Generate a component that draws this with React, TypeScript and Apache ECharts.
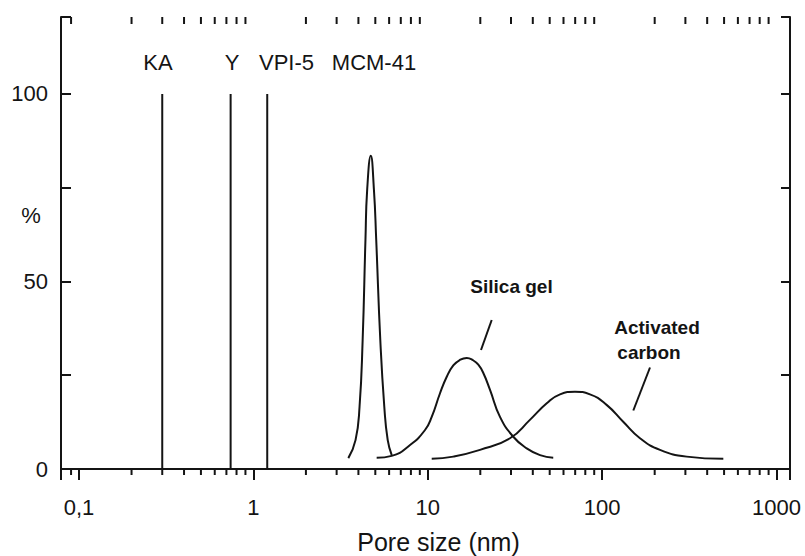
import React, { useEffect, useRef } from "react";
import * as echarts from "echarts";

// Molecular sieves (vertical lines), pore size in nm
const sieveNames = ["KA", "Y", "VPI-5"];
const sievePores = [0.3, 0.74, 1.2];
const sieveHeights = [100, 100, 100];

// MCM-41 distribution
const mcmPore = [3.5, 3.85, 4.06, 4.23, 4.39, 4.49, 4.71, 4.91, 5.06, 5.34, 5.63, 5.89, 6.21];
const mcmPct = [2.9, 7.7, 16.6, 34.4, 61.1, 74.4, 83.5, 74.4, 61.1, 34.4, 16.6, 7.7, 3.7];

// Silica gel distribution
const silicaPore = [5.09, 6.21, 7.91, 9.64, 10.53, 11.75, 12.84, 14.0, 15.2, 16.72, 18.16, 19.48, 20.81, 22.74, 25.94, 30.92, 36.9, 44.0, 52.4];
const silicaPct = [3.0, 3.5, 6.4, 10.4, 13.9, 20.2, 24.6, 27.6, 29.0, 29.6, 29.0, 27.8, 25.6, 21.1, 13.9, 8.6, 5.5, 3.7, 3.0];

// Activated carbon distribution
const carbonPore = [10.53, 14.0, 19.92, 29.6, 38.5, 48.1, 57.3, 69.8, 85.1, 106, 132, 164.7, 214.5, 305, 495];
const carbonPct = [2.7, 3.3, 5.1, 8.2, 13.1, 17.5, 19.9, 20.6, 19.9, 17.1, 12.6, 8.2, 5.1, 3.3, 2.7];

// Axis ticks
const xMajorValues = [0.1, 1, 10, 100, 1000];
const xMajorLabels = ["0,1", "1", "10", "100", "1000"];
const xMinorValues = [
  0.09,
  0.2, 0.3, 0.4, 0.5, 0.6, 0.7, 0.8, 0.9,
  2, 3, 4, 5, 6, 7, 8, 9,
  20, 30, 40, 50, 60, 70, 80, 90,
  200, 300, 400, 500, 600, 700, 800, 900,
];
const yLabelValues = [0, 50, 100];

const X_MIN = 0.0788;
const X_MAX = 1194;
const Y_MAX = 120.5;
const INK = "#141414";
const FONT = '"Liberation Sans", Arial, Helvetica, sans-serif';

const zip = (xs: number[], ys: number[]) => xs.map((x, i) => [x, ys[i]]);

const curveSeries = (name: string, xs: number[], ys: number[]) => ({
  name,
  type: "line",
  data: zip(xs, ys),
  symbol: "none",
  showSymbol: false,
  smooth: 0.5,
  silent: true,
  lineStyle: { color: INK, width: 2 },
  z: 3,
});

function xLabel(v: number) {
  for (let i = 0; i < xMajorValues.length; i++) {
    if (Math.abs(v - xMajorValues[i]) / xMajorValues[i] < 1e-6) return xMajorLabels[i];
  }
  return "";
}

const textEl = (text: string, x: number, y: number, fontSize: number, bold = false) => ({
  type: "text",
  x,
  y,
  style: {
    text,
    fill: INK,
    fontSize,
    fontWeight: bold ? "bold" : "normal",
    fontFamily: FONT,
    textAlign: "center",
    textVerticalAlign: "middle",
    align: "center",
    verticalAlign: "middle",
  },
});

export default function App() {
  const ref = useRef<HTMLDivElement>(null);

  useEffect(() => {
    document.body.style.margin = "0";
    if (!ref.current) return;
    const chart = echarts.init(ref.current, undefined, { renderer: "svg" });

    const axisLine = { show: true, lineStyle: { color: INK, width: 2 } };

    const option: any = {
      animation: false,
      backgroundColor: "#ffffff",
      textStyle: { fontFamily: FONT },
      grid: { left: 61, right: 15, top: 17, bottom: 87, containLabel: false, outerBoundsMode: "none" },
      xAxis: [
        {
          type: "log",
          logBase: 10,
          min: X_MIN,
          max: X_MAX,
          position: "bottom",
          axisLine,
          axisTick: { show: true, inside: false, length: 11, lineStyle: { color: INK, width: 2 } },
          axisLabel: { show: true, fontSize: 22, color: INK, margin: 27, fontFamily: FONT, formatter: xLabel },
          splitLine: { show: false },
          minorTick: { show: false },
        },
        {
          type: "log",
          logBase: 10,
          min: X_MIN,
          max: X_MAX,
          position: "top",
          axisLine,
          axisTick: { show: true, inside: true, length: 11, lineStyle: { color: INK, width: 2 } },
          axisLabel: { show: false },
          splitLine: { show: false },
        },
      ],
      yAxis: [
        {
          type: "value",
          min: 0,
          max: Y_MAX,
          interval: 25,
          position: "left",
          axisLine,
          axisTick: { show: true, inside: true, length: 10, lineStyle: { color: INK, width: 2 } },
          axisLabel: {
            show: true,
            fontSize: 22,
            color: INK,
            margin: 13,
            fontFamily: FONT,
            formatter: (v: number) => (yLabelValues.indexOf(v) >= 0 ? String(v) : ""),
          },
          splitLine: { show: false },
        },
        {
          type: "value",
          min: 0,
          max: Y_MAX,
          interval: 25,
          position: "right",
          axisLine,
          axisTick: { show: true, inside: true, length: 9, lineStyle: { color: INK, width: 2 } },
          axisLabel: { show: false },
          splitLine: { show: false },
        },
      ],
      series: [
        ...sieveNames.map((name, i) => ({
          name,
          type: "line",
          data: [
            [sievePores[i], 0],
            [sievePores[i], sieveHeights[i]],
          ],
          symbol: "none",
          showSymbol: false,
          silent: true,
          lineStyle: { color: INK, width: 2 },
          z: 3,
        })),
        curveSeries("MCM-41", mcmPore, mcmPct),
        curveSeries("Silica gel", silicaPore, silicaPct),
        curveSeries("Activated carbon", carbonPore, carbonPct),
        {
          name: "minor ticks",
          type: "custom",
          clip: false,
          silent: true,
          data: xMinorValues.map((v) => [v, 0]),
          encode: { x: 0, y: 1 },
          renderItem: (params: any, api: any) => {
            const v = api.value(0);
            const pb = api.coord([v, 0]);
            const pt = api.coord([v, Y_MAX]);
            return {
              type: "group",
              children: [
                {
                  type: "line",
                  shape: { x1: pb[0], y1: pb[1], x2: pb[0], y2: pb[1] + 6 },
                  style: { stroke: INK, lineWidth: 2 },
                },
                {
                  type: "line",
                  shape: { x1: pt[0], y1: pt[1], x2: pt[0], y2: pt[1] + 7 },
                  style: { stroke: INK, lineWidth: 2 },
                },
              ],
            };
          },
          z: 4,
        },
      ],
      graphic: [
        textEl("KA", 158, 62, 22),
        textEl("Y", 232, 62, 22),
        textEl("VPI-5", 286.5, 62, 22),
        textEl("MCM-41", 374, 62, 22),
        textEl("Silica gel", 511.5, 286, 19, true),
        textEl("Activated", 657, 327, 19, true),
        textEl("carbon", 649, 352, 19, true),
        { type: "line", shape: { x1: 491.7, y1: 320, x2: 481, y2: 350 }, style: { stroke: INK, lineWidth: 2 } },
        { type: "line", shape: { x1: 650, y1: 367.5, x2: 633.3, y2: 410.5 }, style: { stroke: INK, lineWidth: 2 } },
        textEl("%", 31, 215, 22),
        textEl("Pore size (nm)", 438.5, 542, 25),
      ],
    };

    chart.setOption(option);
    return () => {
      chart.dispose();
    };
  }, []);

  return <div ref={ref} style={{ width: 805, height: 556 }} />;
}
